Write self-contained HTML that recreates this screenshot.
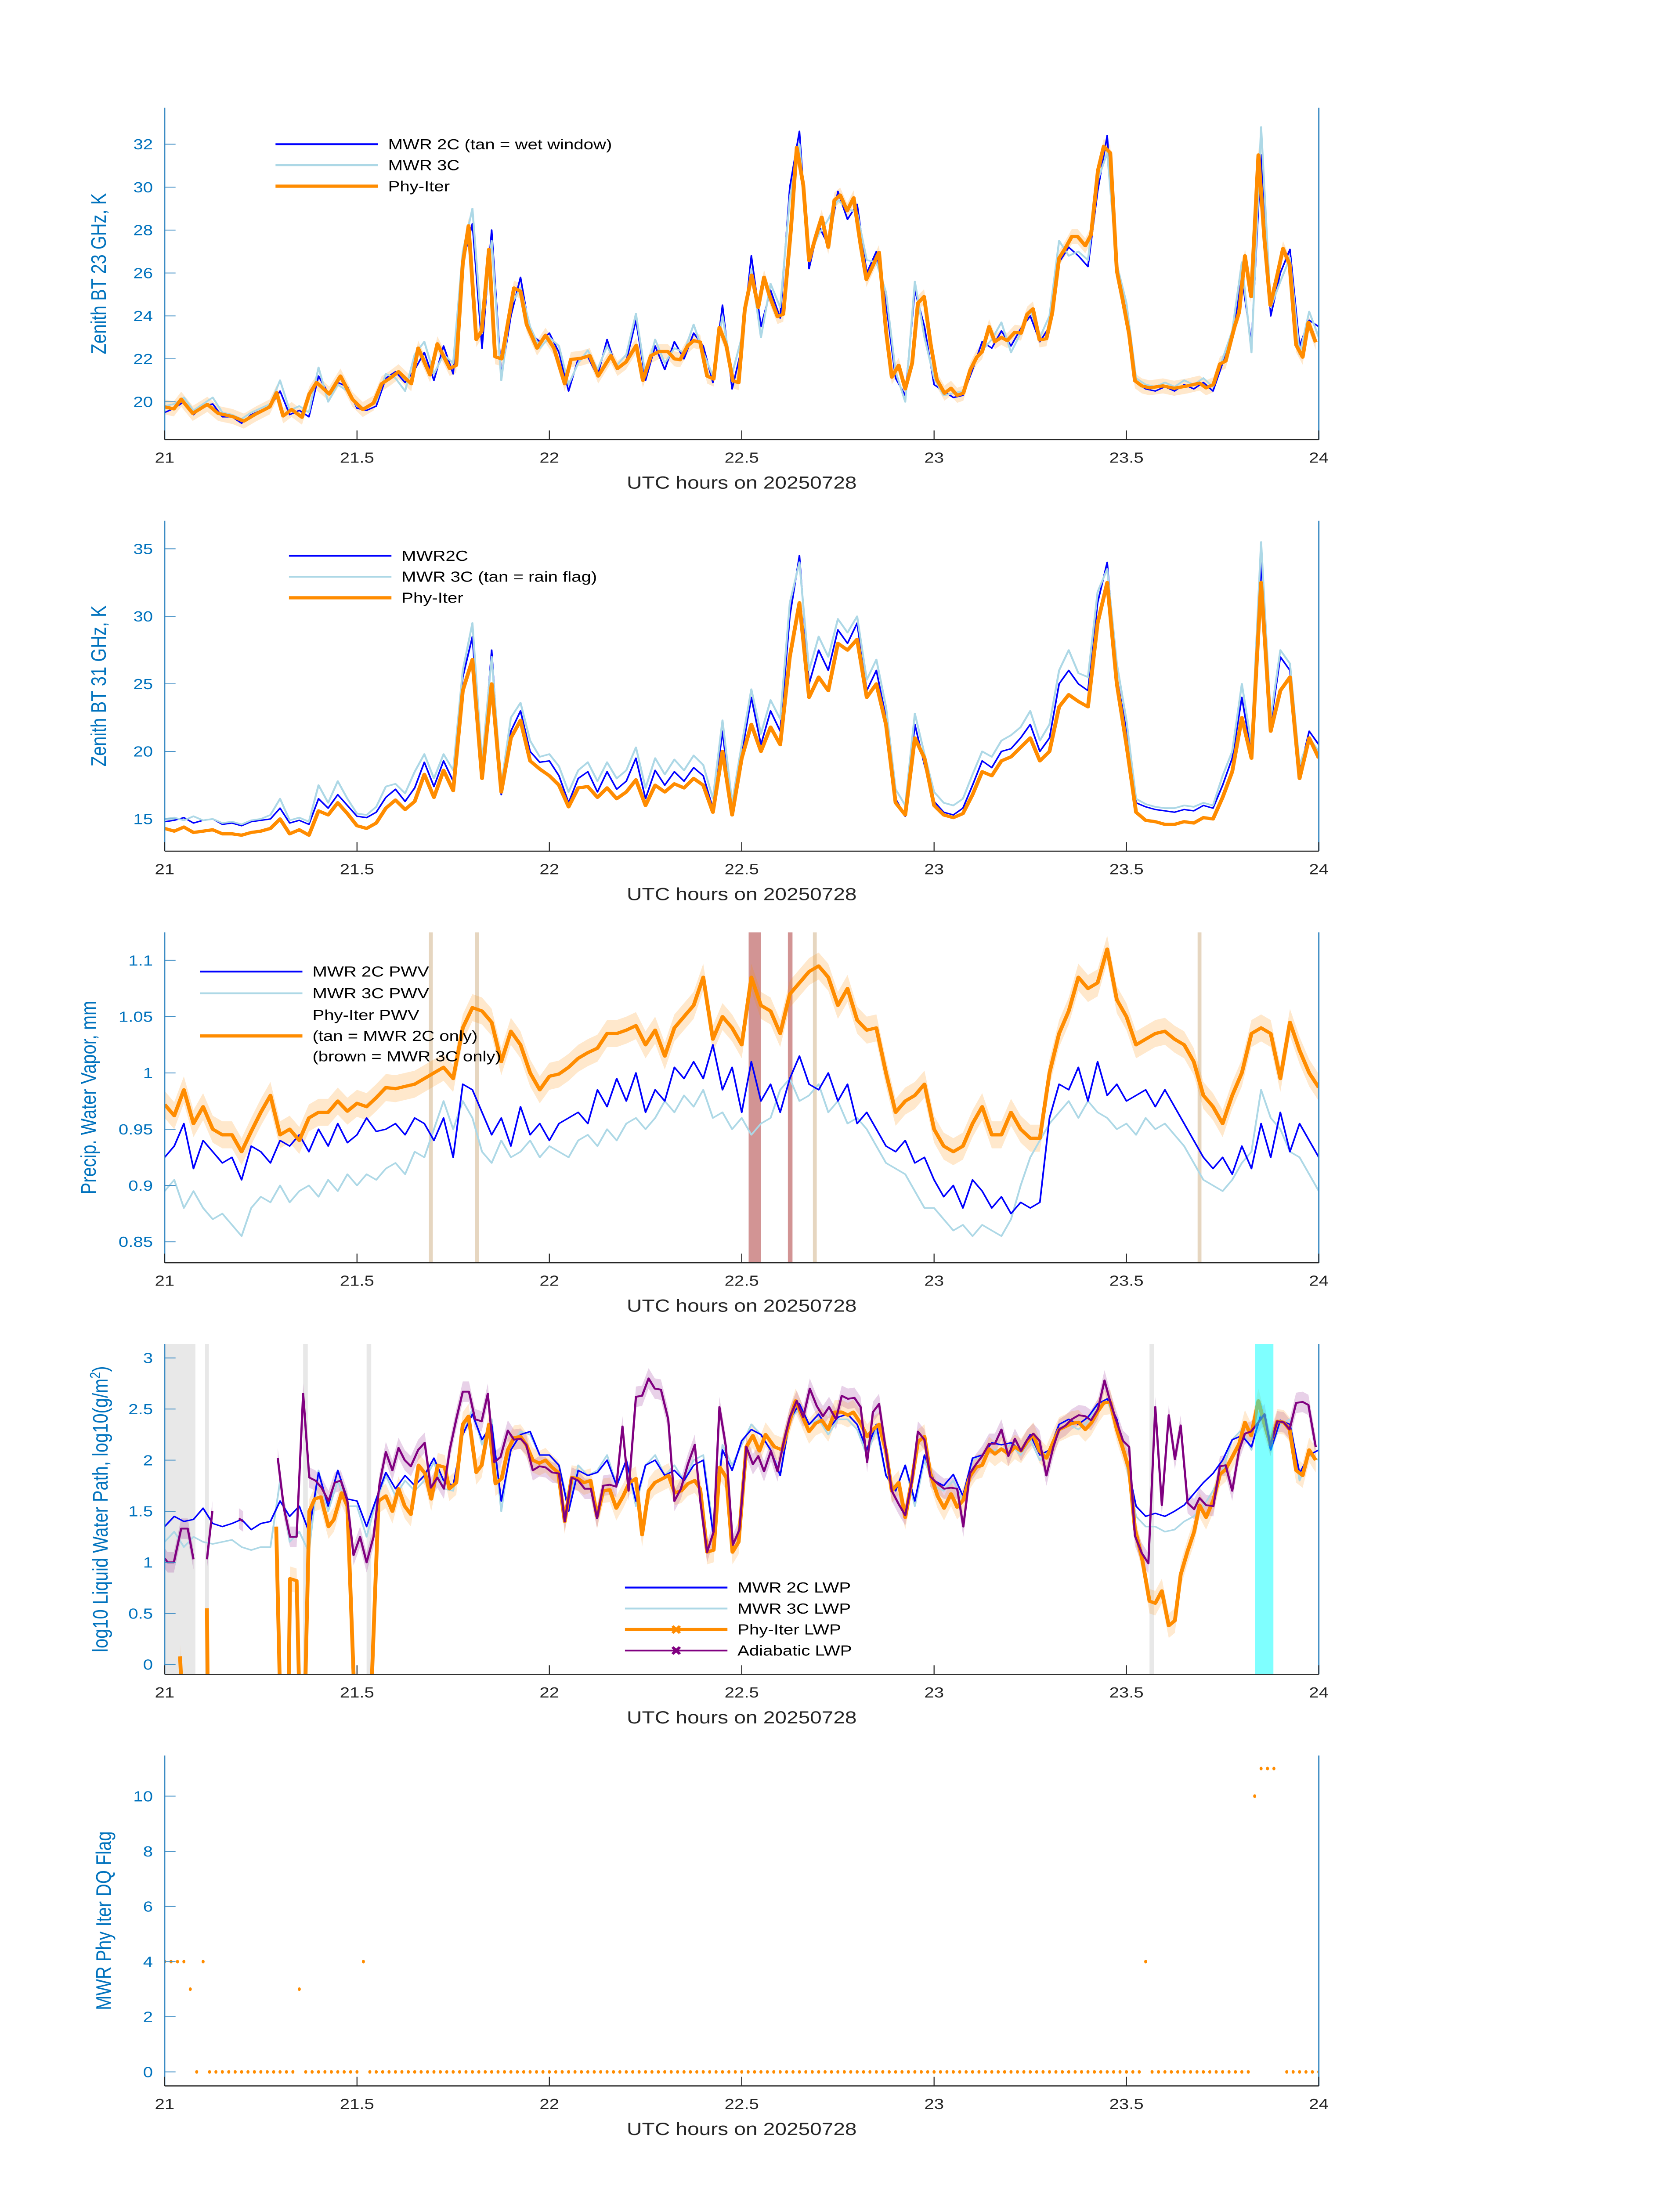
<!DOCTYPE html>
<html><head><meta charset="utf-8"><title>MWR retrievals 20250728</title>
<style>
html,body{margin:0;padding:0;background:#fff;width:100%;height:100%;overflow:hidden;}
svg{display:block;position:absolute;left:0;top:0;width:100vw;height:100vh;}
text{font-family:"Liberation Sans","DejaVu Sans",sans-serif;}
</style></head>
<body>
<svg id="chart" xmlns="http://www.w3.org/2000/svg" viewBox="0 0 1000 1568.63" preserveAspectRatio="none">
<rect x="0" y="0" width="1000" height="1568.63" fill="#fff"/>
</svg>
<script>
// ---------------- DATA ----------------
const xTicks=[21,21.5,22,22.5,23,23.5,24];
const xTickLabels=["21","21.5","22","22.5","23","23.5","24"];
const gridStart=21, gridStep=0.025;

// Panel 1: BT 23 GHz
const bt23Ticks=[20,22,24,26,28,30,32];
const bt23Phy=[[21.00,19.76],[21.024,19.67],[21.043,20.12],[21.073,19.46],[21.111,19.88],[21.139,19.46],[21.177,19.31],[21.206,19.1],[21.237,19.43],[21.273,19.76],[21.291,20.42],[21.308,19.34],[21.33,19.64],[21.357,19.28],[21.376,20.36],[21.395,20.9],[21.428,20.36],[21.457,21.2],[21.488,20.12],[21.515,19.64],[21.543,19.94],[21.564,20.84],[21.586,21.1],[21.608,21.4],[21.641,20.84],[21.659,22.5],[21.69,21.25],[21.709,22.7],[21.741,21.55],[21.758,21.7],[21.775,26.45],[21.79,28.2],[21.81,22.9],[21.824,23.3],[21.843,27.1],[21.859,22.1],[21.876,22.0],[21.908,25.3],[21.925,25.15],[21.941,23.6],[21.968,22.5],[21.99,23.1],[22.012,22.5],[22.04,20.84],[22.056,21.97],[22.083,22.03],[22.105,22.15],[22.127,21.2],[22.16,22.15],[22.177,21.55],[22.199,21.85],[22.226,22.63],[22.243,21.0],[22.264,22.15],
[22.285,22.34],[22.308,22.34],[22.325,22.0],[22.34,21.96],[22.36,22.62],[22.375,22.85],[22.392,22.78],[22.41,21.2],[22.427,21.06],[22.442,23.46],[22.46,22.62],[22.477,20.98],[22.492,20.89],[22.508,24.3],[22.526,25.9],[22.543,24.4],[22.558,25.8],[22.573,24.9],[22.593,23.97],[22.608,24.08],[22.628,28.05],[22.643,31.85],[22.66,30.1],[22.675,26.58],[22.692,27.67],[22.708,28.6],[22.725,27.2],[22.741,29.4],[22.756,29.63],[22.774,28.9],[22.791,29.5],[22.809,27.3],[22.824,25.7],[22.841,26.35],[22.857,26.96],[22.875,23.3],[22.89,21.15],[22.908,21.7],[22.925,20.6],[22.943,21.8],[22.958,24.6],[22.974,24.9],[22.991,22.7],[23.007,21.04],[23.027,20.4],[23.044,20.63],[23.06,20.3],[23.076,20.4],[23.094,21.48],[23.111,22.08],[23.125,22.34],[23.143,23.5],[23.158,22.8],[23.175,23.0],[23.19,22.85],[23.21,23.24],[23.226,23.2],[23.242,24.08],[23.257,24.33],[23.274,22.88],[23.292,22.94],[23.307,24.13],[23.325,26.69],[23.342,27.18],[23.358,27.7],[23.373,27.7],[23.393,27.27],[23.408,27.78],[23.426,30.78],[23.441,31.9],[23.458,31.6],[23.475,26.1],[23.491,24.68],[23.507,23.15],[23.522,20.98],[23.54,20.74],[23.56,20.65],[23.595,20.74],[23.624,20.63],[23.659,20.74],[23.69,20.87],[23.707,20.65],[23.726,20.8],[23.743,21.76],[23.758,21.9],[23.781,23.5],[23.793,24.18],[23.808,26.8],[23.824,24.9],[23.843,31.5],[23.859,27.5],[23.874,24.5],[23.892,25.9],[23.907,27.14],[23.924,26.4],[23.941,22.65],[23.958,22.08],[23.973,23.7],[23.992,22.77]];
const bt23Mwr2c=[19.5,19.7,20.0,19.4,19.8,19.9,19.3,19.3,19.0,19.4,
19.6,19.8,20.5,19.4,19.6,19.3,21.2,20.4,20.9,20.7,
19.7,19.6,19.8,21.1,21.4,20.9,21.5,22.3,21.0,22.6,
21.3,26.5,28.3,22.5,28.0,21.2,24.0,25.8,23.2,22.8,
23.2,22.3,20.5,22.0,22.1,21.2,22.9,21.5,21.9,23.8,
21.0,22.6,21.5,22.8,22.0,23.2,22.6,20.9,24.5,20.6,
22.5,26.8,23.5,25.2,23.9,30.0,32.6,26.2,28.2,27.3,
29.8,28.5,29.2,26.0,27.0,24.6,21.1,20.3,25.2,23.5,
20.8,20.5,20.2,20.3,21.5,22.8,22.5,23.3,22.6,23.4,
24.0,22.8,23.5,26.5,27.2,26.8,26.3,29.8,32.4,26.0,
24.2,20.9,20.6,20.5,20.7,20.5,20.8,20.6,20.9,20.5,
21.8,23.0,25.8,22.7,31.5,24.0,26.0,27.1,22.6,23.8,
23.5];
const bt23Mwr3c=[19.8,19.9,20.2,19.6,19.9,20.2,19.5,19.4,19.2,19.5,
19.7,19.9,21.0,19.6,19.8,19.5,21.6,20.0,20.8,20.5,
19.8,19.7,20.0,21.3,21.1,20.5,22.2,22.8,21.3,22.2,
21.8,27.0,29.0,23.2,27.5,21.0,24.5,25.3,23.5,22.5,
23.0,22.6,20.8,21.8,22.4,21.5,22.6,21.7,22.2,24.1,
21.2,22.9,21.8,22.5,22.3,23.6,22.3,21.2,24.0,21.3,
23.0,26.2,23.0,25.5,24.4,29.5,32.0,26.8,27.8,28.5,
29.4,29.0,28.8,26.6,26.5,25.1,21.4,20.0,25.6,23.0,
21.1,20.3,20.4,20.5,21.8,22.4,22.9,23.7,22.3,23.2,
24.3,23.0,24.0,27.5,26.8,27.0,26.6,30.3,31.6,26.4,
24.6,21.1,20.8,20.7,20.9,20.7,21.0,20.8,21.1,20.7,
22.0,23.3,26.5,22.3,32.8,24.4,25.6,26.7,22.2,24.2,
23.0];

// Panel 2: BT 31 GHz
const bt31Ticks=[15,20,25,30,35];
const bt31Phy=[14.3,14.1,14.4,14.0,14.1,14.2,13.9,13.9,13.8,14.0,
14.1,14.3,15.0,13.9,14.2,13.8,15.6,15.3,16.2,15.4,
14.5,14.3,14.7,15.8,16.4,15.7,16.3,18.3,16.6,18.6,
17.1,24.5,26.8,18.0,25.0,17.0,21.0,22.3,19.3,18.7,
18.2,17.5,15.9,17.3,17.4,16.6,17.3,16.5,17.0,17.9,
16.0,17.5,17.0,17.6,17.3,18.0,17.5,15.5,20.0,15.3,
19.5,22.0,20.0,21.8,20.5,27.0,31.0,24.0,25.5,24.5,
28.0,27.5,28.3,24.0,25.0,22.0,16.2,15.3,21.0,19.5,
16.0,15.3,15.1,15.4,16.8,18.5,18.2,19.3,19.6,20.3,
21.0,19.3,20.0,23.3,24.2,23.7,23.3,29.5,32.5,25.0,
20.5,15.5,14.9,14.8,14.6,14.6,14.8,14.7,15.1,15.0,
16.6,18.5,22.5,19.5,32.5,21.5,24.5,25.5,18.0,21.0,
19.5];
const bt31Mwr2c=[14.8,14.9,15.1,14.7,14.9,15.0,14.6,14.7,14.5,14.8,
14.9,15.0,15.8,14.7,14.9,14.6,16.5,15.8,16.8,16.0,
15.2,15.1,15.5,16.6,17.2,16.3,17.3,19.2,17.4,19.3,
17.8,25.5,28.5,18.5,27.5,16.8,21.5,23.0,20.0,19.2,
19.3,18.2,16.2,18.0,18.5,17.0,18.5,17.2,17.8,19.5,
16.5,18.6,17.5,18.5,17.8,18.8,18.2,15.8,21.5,15.5,
19.8,24.0,20.5,23.0,21.5,30.0,34.5,25.0,27.5,26.0,
29.0,28.0,29.5,24.5,26.0,22.5,16.5,15.2,22.0,19.0,
16.3,15.5,15.3,15.8,17.5,19.3,18.8,20.0,20.2,21.0,
22.0,20.0,21.0,25.0,26.0,25.0,24.5,31.0,34.0,25.5,
21.5,16.2,15.9,15.7,15.6,15.5,15.7,15.6,16.0,15.8,
17.5,19.5,24.0,19.8,34.0,22.0,27.0,26.0,18.5,21.5,
20.5];
const bt31Mwr3c=[15.0,15.1,14.9,15.2,14.9,15.0,14.7,14.8,14.6,14.9,
15.0,15.3,16.5,14.9,15.1,14.8,17.5,16.2,17.8,16.5,
15.4,15.3,15.9,17.4,17.6,16.9,18.5,19.8,18.0,19.8,
18.6,26.0,29.5,19.2,27.0,17.5,22.5,23.6,20.8,19.6,
19.8,18.9,17.0,18.6,19.2,17.8,19.2,18.0,18.6,20.3,
17.3,19.5,18.3,19.4,18.6,19.7,19.0,16.5,22.3,16.2,
20.5,24.6,21.3,23.8,22.4,31.0,34.0,26.0,28.5,27.0,
29.8,28.8,30.0,25.3,26.8,23.3,17.2,16.0,22.8,19.8,
17.0,16.2,16.0,16.5,18.3,20.0,19.6,20.8,21.2,21.8,
23.0,20.8,22.0,26.0,27.5,25.8,25.5,31.8,33.5,26.5,
22.3,16.5,16.1,15.9,15.8,15.8,16.0,15.9,16.2,16.0,
18.2,20.0,25.0,20.5,35.5,22.5,27.5,26.5,19.0,21.0,
20.0];

// Panel 3: PWV
const pwvTicks=[0.85,0.9,0.95,1,1.05,1.1];
const pwvTickLabels=["0.85","0.9","0.95","1","1.05","1.1"];
const pwvPhy=[.972,.962,.985,.955,.970,.950,.945,.945,.930,.948,
.965,.980,.945,.950,.940,.960,.965,.965,.975,.966,
.973,.970,.978,.987,.986,.988,.990,.995,1.000,1.005,
.995,1.040,1.058,1.055,1.045,1.010,1.037,1.025,1.000,.985,
.997,.999,1.005,1.013,1.018,1.022,1.035,1.035,1.038,1.042,
1.025,1.038,1.015,1.040,1.050,1.060,1.085,1.030,1.050,1.040,
1.025,1.085,1.060,1.055,1.035,1.070,1.080,1.090,1.095,1.085,
1.060,1.075,1.047,1.038,1.040,1.000,.965,.975,.980,.990,
.950,.935,.930,.935,.955,.970,.945,.945,.965,.950,
.942,.942,1.000,1.035,1.055,1.085,1.075,1.080,1.110,1.065,
1.050,1.025,1.030,1.035,1.037,1.030,1.025,1.010,.980,.970,
.955,.980,1.000,1.035,1.040,1.035,.995,1.045,1.020,1.000,
.987];
const pwvMwr2c=[.925,.935,.955,.915,.940,.930,.920,.925,.905,.935,
.930,.920,.940,.935,.945,.930,.950,.935,.955,.938,
.945,.960,.948,.950,.955,.945,.960,.955,.940,.960,
.925,.990,.985,.965,.945,.960,.935,.970,.945,.955,
.940,.955,.960,.965,.955,.985,.970,.995,.975,1.000,
.965,.985,.975,1.005,.995,1.010,.995,1.025,.985,1.005,
.965,1.010,.975,.990,.965,.995,1.015,.990,.985,1.000,
.975,.990,.955,.965,.950,.935,.930,.940,.920,.925,
.905,.890,.900,.880,.905,.895,.880,.890,.875,.885,
.880,.885,.960,.990,.985,1.005,.975,1.010,.980,.990,
.975,.980,.985,.970,.985,.970,.955,.940,.925,.915,
.925,.910,.935,.915,.955,.925,.965,.930,.955,.940,
.925];
const pwvMwr3c=[.895,.905,.880,.895,.880,.870,.875,.865,.855,.880,
.890,.885,.900,.885,.895,.900,.890,.905,.895,.910,
.900,.910,.905,.915,.920,.910,.930,.925,.950,.975,
.950,.975,.960,.930,.920,.940,.925,.930,.940,.925,
.935,.930,.925,.940,.945,.935,.950,.940,.955,.960,
.950,.960,.975,.965,.980,.970,.985,.960,.965,.950,
.960,.945,.955,.960,.985,.995,.975,.980,.990,.965,
.975,.955,.960,.950,.935,.920,.915,.910,.895,.880,
.880,.870,.860,.865,.855,.865,.860,.855,.870,.900,
.925,.940,.955,.965,.975,.960,.975,.965,.960,.950,
.955,.945,.960,.950,.955,.945,.935,.920,.905,.900,
.895,.905,.920,.930,.985,.960,.950,.930,.925,.910,
.895];
const pwvTanFlags=[[21.687,21.697],[21.807,21.817],[22.685,22.695],[23.685,23.695]];
const pwvBrownFlags=[[22.518,22.55],[22.62,22.632]];

// Panel 4: LWP
const lwpTicks=[0,0.5,1,1.5,2,2.5,3];
const lwpTickLabels=["0","0.5","1","1.5","2","2.5","3"];
const lwpMwr2c=[1.35,1.45,1.40,1.42,1.53,1.38,1.35,1.38,1.42,1.32,
1.38,1.40,1.60,1.45,1.55,1.30,1.88,1.55,1.90,1.62,
1.60,1.35,1.62,1.88,1.72,1.85,1.75,1.85,2.02,1.80,
1.75,2.25,2.45,2.20,2.35,1.60,2.10,2.25,2.28,2.05,
2.05,1.95,1.50,1.90,1.85,1.88,2.00,1.75,2.00,1.60,
1.95,2.00,1.85,1.90,1.80,1.95,2.00,1.30,2.10,1.90,
2.19,2.30,2.25,2.10,1.85,2.40,2.55,2.35,2.45,2.30,
2.42,2.45,2.35,2.10,2.35,1.85,1.70,1.95,1.60,2.05,
1.80,1.75,1.86,1.65,2.02,2.05,2.17,2.15,2.17,2.10,
2.25,2.05,2.10,2.35,2.40,2.35,2.42,2.55,2.60,2.40,
2.00,1.55,1.45,1.48,1.45,1.50,1.56,1.67,1.78,1.87,
2.00,2.20,2.24,2.13,2.45,2.10,2.39,2.35,1.87,2.05,
2.10];
const lwpMwr3c=[1.20,1.30,1.15,1.25,1.20,1.18,1.20,1.22,1.15,1.12,
1.15,1.15,1.80,1.20,1.30,1.10,1.90,1.50,1.80,1.55,
1.55,1.25,1.60,1.85,1.65,1.80,1.70,1.80,1.98,1.72,
1.70,2.25,2.50,2.15,2.40,1.50,2.15,2.28,2.25,2.05,
2.05,1.95,1.55,1.95,1.85,1.90,2.05,1.75,2.00,1.55,
1.95,2.05,1.85,1.95,1.80,2.00,2.05,1.35,2.15,1.95,
2.15,2.35,2.25,2.10,1.85,2.40,2.50,2.35,2.40,2.25,
2.40,2.40,2.30,2.05,2.30,1.85,1.70,1.95,1.55,2.00,
1.75,1.70,1.80,1.60,2.00,2.05,2.10,2.10,2.15,2.05,
2.20,2.00,2.10,2.30,2.35,2.30,2.38,2.55,2.58,2.35,
1.95,1.45,1.35,1.35,1.30,1.32,1.40,1.45,1.55,1.70,
1.90,2.20,2.30,2.10,2.55,2.10,2.35,2.40,1.80,2.05,
2.00];
const lwpPhy=[[21.04,0.08],[21.045,-0.3],null,[21.11,0.55],[21.112,-0.3],null,
[21.29,1.35],[21.30,-0.3],[21.322,-0.3],[21.326,0.84],[21.343,0.82],[21.35,-0.3],[21.365,-0.3],[21.376,1.5],[21.39,1.62],[21.406,1.64],[21.426,1.35],[21.44,1.42],[21.46,1.68],[21.475,1.55],[21.493,-0.3],[21.537,-0.3],[21.556,1.6],[21.575,1.65],[21.592,1.5],[21.608,1.72],[21.624,1.55],[21.64,1.47],[21.66,1.95],[21.677,1.87],[21.693,1.62],[21.71,1.95],[21.728,1.93],[21.74,1.72],[21.758,1.78],[21.775,2.35],[21.79,2.43],[21.81,1.88],[21.824,1.95],[21.843,2.35],[21.86,1.77],[21.876,1.82],[21.892,2.1],[21.908,2.22],[21.925,2.23],[21.94,2.15],[21.957,2.0],[21.974,1.97],[21.99,2.0],[22.007,1.93],[22.023,1.88],[22.04,1.4],[22.058,1.83],[22.074,1.82],[22.09,1.78],[22.107,1.8],[22.124,1.45],[22.14,1.7],[22.157,1.71],[22.174,1.53],[22.192,1.65],[22.208,1.78],[22.225,1.82],[22.241,1.27],[22.258,1.7],[22.274,1.78],[22.31,1.85],[22.326,1.68],[22.343,1.7],[22.36,1.77],[22.378,1.8],[22.392,1.72],[22.41,1.1],[22.427,1.12],[22.443,1.93],[22.46,1.83],[22.476,1.1],[22.492,1.2],
[22.512,2.13],[22.529,2.24],[22.546,2.09],[22.562,2.25],[22.585,2.13],[22.605,2.10],[22.625,2.39],[22.64,2.58],[22.66,2.41],[22.675,2.28],[22.692,2.36],[22.708,2.39],[22.725,2.30],[22.742,2.47],[22.76,2.47],[22.776,2.44],[22.79,2.47],[22.809,2.36],[22.826,2.23],[22.841,2.30],[22.857,2.35],[22.875,2.09],[22.89,1.70],[22.908,1.78],[22.925,1.44],[22.943,1.82],[22.958,2.18],[22.975,2.23],[22.99,1.87],[23.009,1.65],[23.026,1.53],[23.044,1.67],[23.06,1.54],[23.076,1.61],[23.093,1.84],[23.109,1.93],[23.125,1.95],[23.143,2.11],[23.158,2.06],[23.175,2.11],[23.193,2.06],[23.21,2.13],[23.226,2.09],[23.242,2.18],[23.258,2.25],[23.274,2.09],[23.292,2.02],[23.31,2.18],[23.325,2.30],[23.342,2.33],[23.358,2.36],[23.376,2.37],[23.393,2.30],[23.408,2.36],[23.426,2.48],[23.441,2.56],[23.458,2.57],[23.475,2.30],[23.491,2.11],[23.507,1.91],[23.522,1.33],[23.54,1.05],[23.56,0.62],[23.575,0.60],[23.592,0.72],[23.61,0.38],[23.626,0.43],[23.641,0.88],[23.659,1.11],[23.676,1.30],[23.69,1.56],[23.707,1.44],[23.726,1.61],[23.743,1.86],[23.758,1.91],[23.779,2.06],[23.793,2.16],[23.808,2.37],[23.824,2.24],[23.843,2.58],[23.859,2.35],[23.874,2.16],[23.892,2.38],[23.909,2.37],[23.924,2.30],[23.941,1.90],[23.958,1.85],[23.975,2.10],[23.992,2.00]];
const lwpAdiabatic=[[21.0,1.04],[21.008,1.0],[21.024,1.0],[21.043,1.33],[21.06,1.33],[21.075,1.03],null,[21.11,1.03],[21.124,1.5],null,[21.193,1.43],[21.204,1.40],null,
[21.294,2.02],[21.31,1.53],[21.326,1.25],[21.343,1.25],[21.36,2.65],[21.376,1.83],[21.392,1.8],[21.408,1.73],[21.426,1.6],[21.442,1.78],[21.458,1.8],[21.475,1.6],[21.491,1.07],[21.508,1.25],[21.525,1.0],[21.543,1.25],[21.559,1.78],[21.575,2.08],[21.592,1.9],[21.608,2.12],[21.624,2.0],[21.64,1.94],[21.659,2.1],[21.676,2.17],[21.692,1.73],[21.709,1.83],[21.726,1.72],[21.741,2.1],[21.758,2.4],[21.775,2.67],[21.791,2.67],[21.807,2.4],[21.824,2.38],[21.84,2.65],[21.857,1.98],[21.873,2.03],[21.892,2.29],[21.908,2.2],[21.925,2.21],[21.94,2.15],[21.957,1.9],[21.974,1.94],[21.99,1.93],[22.007,1.88],[22.025,1.87],[22.04,1.4],[22.058,1.83],[22.075,1.8],[22.092,1.72],[22.108,1.72],[22.124,1.43],[22.14,1.75],[22.157,1.76],[22.174,1.74],[22.19,2.33],[22.206,1.7],[22.225,2.62],[22.241,2.63],[22.258,2.8],[22.274,2.7],[22.29,2.69],[22.309,2.4],[22.325,1.6],[22.342,1.72],[22.36,1.96],[22.378,2.15],[22.393,1.58],[22.41,1.10],[22.427,1.30],[22.442,2.52],[22.459,2.13],[22.477,1.17],[22.494,1.32],
[22.512,2.13],[22.529,1.96],[22.543,2.04],[22.558,1.89],[22.576,2.09],[22.593,1.89],[22.61,2.19],[22.625,2.42],[22.643,2.58],[22.66,2.42],[22.677,2.70],[22.695,2.53],[22.711,2.43],[22.727,2.52],[22.745,2.40],[22.76,2.63],[22.776,2.60],[22.793,2.61],[22.809,2.52],[22.826,1.98],[22.841,2.47],[22.857,2.55],[22.875,2.09],[22.89,1.70],[22.908,1.57],[22.925,1.46],[22.943,1.81],[22.958,2.28],[22.975,2.20],[22.99,1.84],[23.009,1.77],[23.026,1.72],[23.044,1.73],[23.06,1.72],[23.076,1.35],[23.093,1.87],[23.109,1.96],[23.125,2.04],[23.143,2.16],[23.158,2.16],[23.175,2.30],[23.193,2.04],[23.21,2.21],[23.226,2.09],[23.242,2.20],[23.258,2.26],[23.274,2.19],[23.292,1.85],[23.31,2.13],[23.325,2.30],[23.342,2.34],[23.358,2.40],[23.376,2.44],[23.393,2.43],[23.408,2.39],[23.426,2.50],[23.443,2.78],[23.458,2.57],[23.475,2.37],[23.491,2.19],[23.507,2.13],[23.522,1.26],[23.54,1.09],[23.557,0.99],[23.575,2.52],[23.592,1.56],[23.61,2.44],[23.626,2.01],[23.641,2.34],[23.659,1.58],[23.676,1.52],[23.69,1.63],[23.707,1.56],[23.726,1.55],[23.743,1.94],[23.758,1.95],[23.775,1.70],[23.793,2.10],[23.808,2.26],[23.824,2.28],[23.843,2.37],[23.859,2.45],[23.874,2.14],[23.892,2.38],[23.909,2.37],[23.924,2.30],[23.941,2.56],[23.958,2.57],[23.973,2.54],[23.992,2.13]];
const lwpGreyFlags=[[21.0,21.08],[21.105,21.115],[21.36,21.372],[21.525,21.537],[23.56,23.572]];
const lwpCyanFlags=[[23.834,23.882]];

// Panel 5: DQ flag (1-minute samples)
const flagTicks=[0,2,4,6,8,10];
const flagStart=21, flagStep=1/60;
const flagValues=[4,4,4,4,3,0,4,
0,0,0,0,0,0,0,0,0,0,0,0,0,0,
3,
0,0,0,0,0,0,0,0,0,
4,
0,0,0,0,0,0,0,0,0,0,0,0,0,0,0,0,0,0,0,0,
0,0,0,0,0,0,0,0,0,0,0,0,0,0,0,0,0,0,0,0,
0,0,0,0,0,0,0,0,0,0,0,0,0,0,0,0,0,0,0,0,
0,0,0,0,0,0,0,0,0,0,0,0,0,0,0,0,0,0,0,0,
0,0,0,0,0,0,0,0,0,0,0,0,0,0,0,0,0,0,0,0,
0,0,0,0,0,0,0,0,0,0,0,0,0,0,0,0,0,0,0,0,
0,
4,
0,0,0,0,0,0,0,0,0,0,0,0,0,0,0,0,
10,11,11,11,null,
0,0,0,0,0,0];

// ---------------- DRAWING ----------------
const NS='http://www.w3.org/2000/svg';
const svg=document.getElementById('chart');
const X0=98, X1=785;
function xs(t){return X0+(t-21)/3*(X1-X0);}
function mk(tag,parent){const e=document.createElementNS(NS,tag);parent.appendChild(e);return e;}
function gridPts(vals){return vals.map((v,i)=>v===null?null:[gridStart+i*gridStep,v]);}
function segs(pts){const out=[];let cur=[];pts.forEach(p=>{if(p===null){if(cur.length)out.push(cur);cur=[];}else cur.push(p);});if(cur.length)out.push(cur);return out;}
function pathD(pts,ys){return segs(pts).map(s=>s.map((p,i)=>(i?'L':'M')+xs(p[0]).toFixed(2)+' '+ys(p[1]).toFixed(2)).join('')).join('');}
function bandD(pts,ys,d){return segs(pts).filter(s=>s.length>1).map(s=>{const up=s.map((p,i)=>(i?'L':'M')+xs(p[0]).toFixed(2)+' '+ys(p[1]+d).toFixed(2)).join('');const lo=s.slice().reverse().map(p=>'L'+xs(p[0]).toFixed(2)+' '+ys(p[1]-d).toFixed(2)).join('');return up+lo+'Z';}).join('');}

const panels=[
 {id:'bt23',top:77,bottom:314,vmin:18.239,vmax:33.696,label:'Zenith BT 23 GHz, K',lx:63},
 {id:'bt31',top:372,bottom:608,vmin:12.617,vmax:37.073,label:'Zenith BT 31 GHz, K',lx:63},
 {id:'pwv',top:666,bottom:902,vmin:0.83134,vmax:1.12488,label:'Precip. Water Vapor, mm',lx:57},
 {id:'lwp',top:960,bottom:1196,vmin:-0.0959,vmax:3.137,label:'log10 Liquid Water Path, log10(g/m',lx:64},
 {id:'flag',top:1254,bottom:1490,vmin:-0.508,vmax:11.472,label:'MWR Phy Iter DQ Flag',lx:66}
];
panels.forEach(p=>{p.ys=v=>p.bottom-(v-p.vmin)/(p.vmax-p.vmin)*(p.bottom-p.top);});

function setupPanel(p){
  const g=mk('g',svg);
  
  
  const cp=mk('clipPath',g);cp.setAttribute('id','clip-'+p.id);
  const cr=mk('rect',cp);cr.setAttribute('x',X0);cr.setAttribute('y',p.top);cr.setAttribute('width',X1-X0);cr.setAttribute('height',p.bottom-p.top);
  const plot=mk('g',g);plot.setAttribute('clip-path','url(#clip-'+p.id+')');
  
  
  p.g=g;p.plot=plot;
  return g;
}
function finishPanel(p,yTicks,yLabels){
  const g=p.g;
  const ax=mk('g',g);
  
  
  const l=mk('line',ax);l.setAttribute('x1',X0);l.setAttribute('x2',X0);l.setAttribute('y1',p.top);l.setAttribute('y2',p.bottom);l.setAttribute('stroke','#3d8cc4');l.setAttribute('stroke-width','0.8');
  
  
  const r=mk('line',ax);r.setAttribute('x1',X1);r.setAttribute('x2',X1);r.setAttribute('y1',p.top);r.setAttribute('y2',p.bottom);r.setAttribute('stroke','#3d8cc4');r.setAttribute('stroke-width','0.8');
  
  
  const b=mk('line',ax);b.setAttribute('x1',X0);b.setAttribute('x2',X1);b.setAttribute('y1',p.bottom);b.setAttribute('y2',p.bottom);b.setAttribute('stroke','#262626');b.setAttribute('stroke-width','0.8');
  
  
  xTicks.forEach((t,i)=>{
    const tk=mk('line',ax);tk.setAttribute('x1',xs(t));tk.setAttribute('x2',xs(t));tk.setAttribute('y1',p.bottom);tk.setAttribute('y2',p.bottom-6.5);tk.setAttribute('stroke','#262626');tk.setAttribute('stroke-width','0.6');
    
    
    const tx=mk('text',ax);tx.setAttribute('x',xs(t));tx.setAttribute('y',p.bottom+16.5);tx.setAttribute('text-anchor','middle');tx.setAttribute('font-size','10.5');tx.setAttribute('fill','#262626');tx.textContent=xTickLabels[i];
    
    
  });
  yTicks.forEach((v,i)=>{
    const y=p.ys(v);
    const tk=mk('line',ax);tk.setAttribute('x1',X0);tk.setAttribute('x2',X0+6.5);tk.setAttribute('y1',y);tk.setAttribute('y2',y);tk.setAttribute('stroke','#3d8cc4');tk.setAttribute('stroke-width','0.6');
    
    
    const tx=mk('text',ax);tx.setAttribute('x',X0-7);tx.setAttribute('y',y+3.7);tx.setAttribute('text-anchor','end');tx.setAttribute('font-size','10.5');tx.setAttribute('fill','#0072BD');tx.textContent=yLabels[i];
    
    
  });
  const xl=mk('text',ax);xl.setAttribute('x',441.5);xl.setAttribute('y',p.bottom+35);xl.setAttribute('text-anchor','middle');xl.setAttribute('font-size','12.5');xl.setAttribute('fill','#262626');xl.textContent='UTC hours on 20250728';
  
  
  const cy=(p.top+p.bottom)/2;
  const yl=mk('text',ax);yl.setAttribute('x',p.lx);yl.setAttribute('y',cy);yl.setAttribute('text-anchor','middle');yl.setAttribute('font-size','12.5');yl.setAttribute('fill','#0072BD');yl.setAttribute('transform','rotate(-90 '+p.lx+' '+cy+')');
  yl.textContent=p.label;
  if(p.id==='lwp'){const s=mk('tspan',yl);s.setAttribute('baseline-shift','super');s.setAttribute('font-size','8.5');s.textContent='2';const c=mk('tspan',yl);c.textContent=')';}
  
  
}
function line(p,pts,color,w,name){
  const e=mk('path',p.plot);e.setAttribute('d',pathD(pts,p.ys));e.setAttribute('fill','none');e.setAttribute('stroke',color);e.setAttribute('stroke-width',w);e.setAttribute('stroke-linejoin','round');
  
  
  return e;
}
function band(p,pts,d,color,op,name){
  const e=mk('path',p.plot);e.setAttribute('d',bandD(pts,p.ys,d));e.setAttribute('fill',color);e.setAttribute('fill-opacity',op);e.setAttribute('stroke','none');
  
  
}
function vbars(p,ranges,color,op,name){
  ranges.forEach(r=>{
    const e=mk('rect',p.plot);e.setAttribute('x',xs(r[0]));e.setAttribute('width',Math.max(xs(r[1])-xs(r[0]),1));e.setAttribute('y',p.top);e.setAttribute('height',p.bottom-p.top);e.setAttribute('fill',color);e.setAttribute('fill-opacity',op);
    
    
  });
}
function legendRow(p,x1,x2,y,color,w,label,name,marker){
  const g=mk('g',p.g);
  
  
  if(color){const l=mk('line',g);l.setAttribute('x1',x1);l.setAttribute('x2',x2);l.setAttribute('y1',y);l.setAttribute('y2',y);l.setAttribute('stroke',color);l.setAttribute('stroke-width',w);
    if(marker){const mx=(x1+x2)/2;const m=mk('path',g);m.setAttribute('d','M'+(mx-2.2)+' '+(y-2.5)+'L'+(mx+2.2)+' '+(y+2.5)+'M'+(mx-2.2)+' '+(y+2.5)+'L'+(mx+2.2)+' '+(y-2.5));m.setAttribute('stroke',color);m.setAttribute('stroke-width','1.8');}}
  const t=mk('text',g);t.setAttribute('x',x2+6);t.setAttribute('y',y+3.6);t.setAttribute('font-size','10.5');t.setAttribute('fill','#000');t.textContent=label;
}

// Panel 1
const P1=panels[0];setupPanel(P1);
band(P1,bt23Phy,0.35,'#FF8C00',0.2,'bt23-phy-iter-uncertainty');
line(P1,gridPts(bt23Mwr2c),'#0000FF',1.0,'bt23-mwr2c-line');
line(P1,gridPts(bt23Mwr3c),'#ADD8E6',1.2,'bt23-mwr3c-line');
line(P1,bt23Phy,'#FF8C00',2.3,'bt23-phy-iter-line');
finishPanel(P1,bt23Ticks,bt23Ticks.map(String));
legendRow(P1,164,225,103,'#0000FF',1.3,'MWR 2C (tan = wet window)','legend-mwr2c');
legendRow(P1,164,225,118,'#ADD8E6',1.3,'MWR 3C','legend-mwr3c');
legendRow(P1,164,225,133,'#FF8C00',2.3,'Phy-Iter','legend-phy-iter');

// Panel 2
const P2=panels[1];setupPanel(P2);
line(P2,gridPts(bt31Mwr2c),'#0000FF',1.0,'bt31-mwr2c-line');
line(P2,gridPts(bt31Mwr3c),'#ADD8E6',1.2,'bt31-mwr3c-line');
line(P2,gridPts(bt31Phy),'#FF8C00',2.3,'bt31-phy-iter-line');
finishPanel(P2,bt31Ticks,bt31Ticks.map(String));
legendRow(P2,172,233,397,'#0000FF',1.3,'MWR2C','legend-mwr2c');
legendRow(P2,172,233,412,'#ADD8E6',1.3,'MWR 3C (tan = rain flag)','legend-mwr3c');
legendRow(P2,172,233,427,'#FF8C00',2.3,'Phy-Iter','legend-phy-iter');

// Panel 3
const P3=panels[2];setupPanel(P3);
vbars(P3,pwvTanFlags,'#D2B48C',0.55,'mwr2c-only-flag');
vbars(P3,pwvBrownFlags,'#A52A2A',0.5,'mwr3c-only-flag');
band(P3,gridPts(pwvPhy),0.012,'#FF8C00',0.2,'pwv-phy-iter-uncertainty');
line(P3,gridPts(pwvMwr3c),'#ADD8E6',1.1,'pwv-mwr3c-line');
line(P3,gridPts(pwvMwr2c),'#0000FF',1.0,'pwv-mwr2c-line');
line(P3,gridPts(pwvPhy),'#FF8C00',2.3,'pwv-phy-iter-line');
finishPanel(P3,pwvTicks,pwvTickLabels);
legendRow(P3,119,180,694,'#0000FF',1.3,'MWR 2C PWV','legend-mwr2c-pwv');
legendRow(P3,119,180,709.5,'#ADD8E6',1.3,'MWR 3C PWV','legend-mwr3c-pwv');
legendRow(P3,119,180,725,null,0,'Phy-Iter PWV','legend-phy-iter-pwv');
legendRow(P3,119,180,740,'#FF8C00',2.3,'(tan = MWR 2C only)','legend-tan-note');
legendRow(P3,119,180,754.5,null,0,'(brown = MWR 3C only)','legend-brown-note');

// Panel 4
const P4=panels[3];setupPanel(P4);
vbars(P4,lwpGreyFlags,'#D9D9D9',0.6,'lwp-flag-bar');
band(P4,lwpAdiabatic,0.1,'#800080',0.18,'adiabatic-uncertainty');
band(P4,lwpPhy,0.12,'#FF8C00',0.18,'lwp-phy-iter-uncertainty');
line(P4,gridPts(lwpMwr3c),'#ADD8E6',1.1,'lwp-mwr3c-line');
line(P4,gridPts(lwpMwr2c),'#0000FF',1.0,'lwp-mwr2c-line');
line(P4,lwpPhy,'#FF8C00',2.3,'lwp-phy-iter-line');
line(P4,lwpAdiabatic,'#800080',1.3,'lwp-adiabatic-line');
vbars(P4,lwpCyanFlags,'#00FFFF',0.5,'lwp-cyan-flag');
finishPanel(P4,lwpTicks,lwpTickLabels);
legendRow(P4,372,433,1134,'#0000FF',1.3,'MWR 2C LWP','legend-mwr2c-lwp');
legendRow(P4,372,433,1149,'#ADD8E6',1.3,'MWR 3C LWP','legend-mwr3c-lwp');
legendRow(P4,372,433,1164,'#FF8C00',2.3,'Phy-Iter LWP','legend-phy-iter-lwp',true);
legendRow(P4,372,433,1179,'#800080',1.3,'Adiabatic LWP','legend-adiabatic-lwp',true);

// Panel 5
const P5=panels[4];setupPanel(P5);
flagValues.forEach((v,i)=>{
  if(v===null)return;
  const c=mk('ellipse',P5.plot);
  c.setAttribute('cx',xs(flagStart+i*flagStep));c.setAttribute('cy',P5.ys(v));c.setAttribute('rx',0.9);c.setAttribute('ry',1.3);c.setAttribute('fill','#FF8C00');
  
  
});
finishPanel(P5,flagTicks,flagTicks.map(String));
</script>
</body></html>
